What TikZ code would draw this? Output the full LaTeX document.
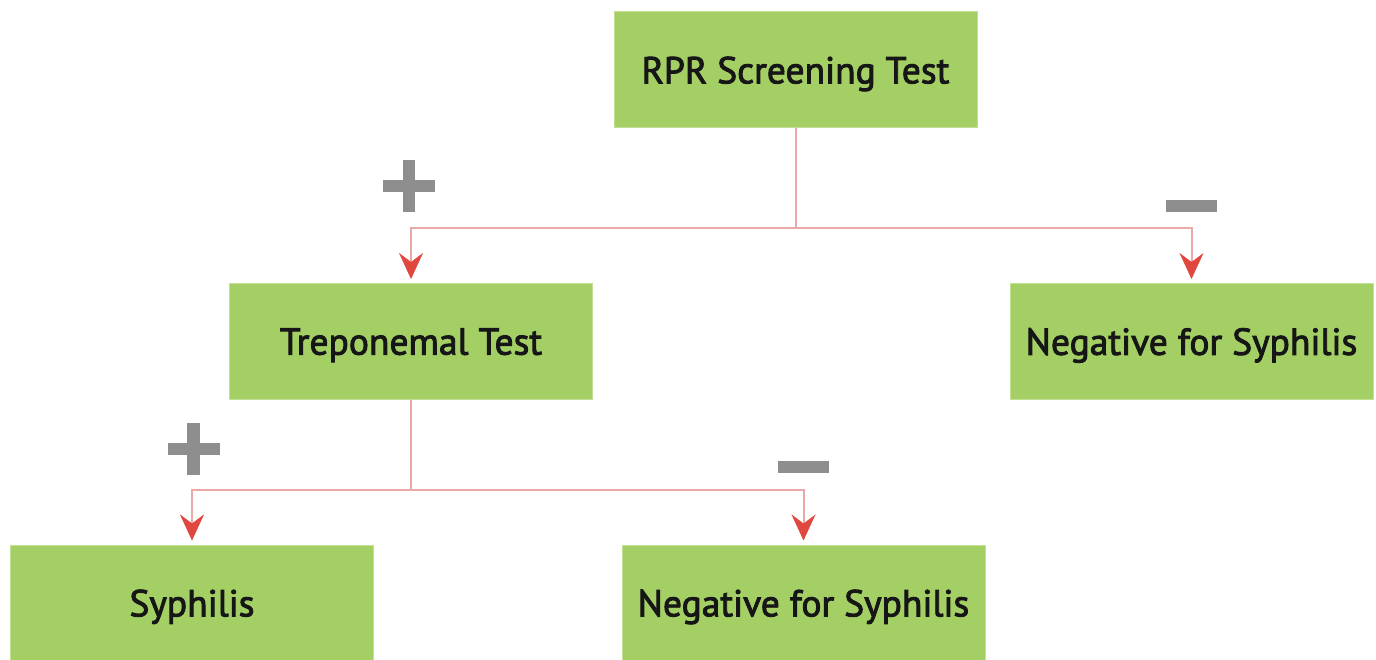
\documentclass[tikz,border=0pt]{standalone}
\usepackage{fontspec}
\setmainfont{PT Sans}
\newfontfamily\boxfont{PT Sans}[FakeBold=2.4]
\usetikzlibrary{arrows.meta}
\definecolor{boxgreen}{HTML}{A4CF64}
\definecolor{boxedge}{HTML}{C2DF93}
\definecolor{linkpink}{HTML}{EBA8A8}
\definecolor{tipred}{HTML}{E0483F}
\definecolor{signgray}{HTML}{8E8E8E}
\definecolor{txt}{HTML}{161616}
\tikzset{
  stepbox/.style={rectangle, fill=boxgreen, draw=boxedge, line width=1pt,
    minimum width=363pt, minimum height=116pt, inner sep=0pt,
    text depth=0pt,
    text=txt, font=\boxfont\fontsize{37.5}{41}\selectfont},
  link/.style={draw=linkpink, line width=2pt},
  arrowlink/.style={link, -{Stealth[length=26pt, width=24pt, inset=9pt, color=tipred, line width=0.5pt]}, shorten >=4pt},
  signbar/.style={draw=signgray, line width=12.5pt, line cap=butt}
}
\begin{document}
\begin{tikzpicture}[x=1pt, y=-1pt]
\useasboundingbox (0,0) rectangle (1376,660);
\clip (0,0) rectangle (1376,660);
\node[stepbox] (rpr) at (795.5,70) {RPR Screening Test};
\node[stepbox] (trep) at (411,341.5) {Treponemal Test};
\node[stepbox] (neg1) at (1191.5,341.5) {Negative for Syphilis};
\node[stepbox] (syph) at (192,603) {Syphilis};
\node[stepbox] (neg2) at (803.5,603) {Negative for Syphilis};
% connectors
\coordinate (j1) at (795.5,228);
\coordinate (j2) at (411,490);
\draw[link] (rpr.south) -- (j1);
\draw[arrowlink] (j1) -| (trep.north);
\draw[arrowlink] (j1) -| (neg1.north);
\draw[link] (trep.south) -- (j2);
\draw[arrowlink] (j2) -| (syph.north);
\draw[arrowlink] (j2) -| (neg2.north);
% signs
\coordinate (p1) at (409,186);
\coordinate (m1) at (1191.5,206);
\coordinate (p2) at (193.5,449);
\coordinate (m2) at (803.5,467);
\draw[signbar] ([xshift=-26pt]p1) -- ([xshift=26pt]p1);
\draw[signbar] ([yshift=-26pt]p1) -- ([yshift=26pt]p1);
\draw[signbar] ([xshift=-25.5pt]m1) -- ([xshift=25.5pt]m1);
\draw[signbar] ([xshift=-26pt]p2) -- ([xshift=26pt]p2);
\draw[signbar] ([yshift=-26pt]p2) -- ([yshift=26pt]p2);
\draw[signbar] ([xshift=-25.5pt]m2) -- ([xshift=25.5pt]m2);
\end{tikzpicture}
\end{document}
